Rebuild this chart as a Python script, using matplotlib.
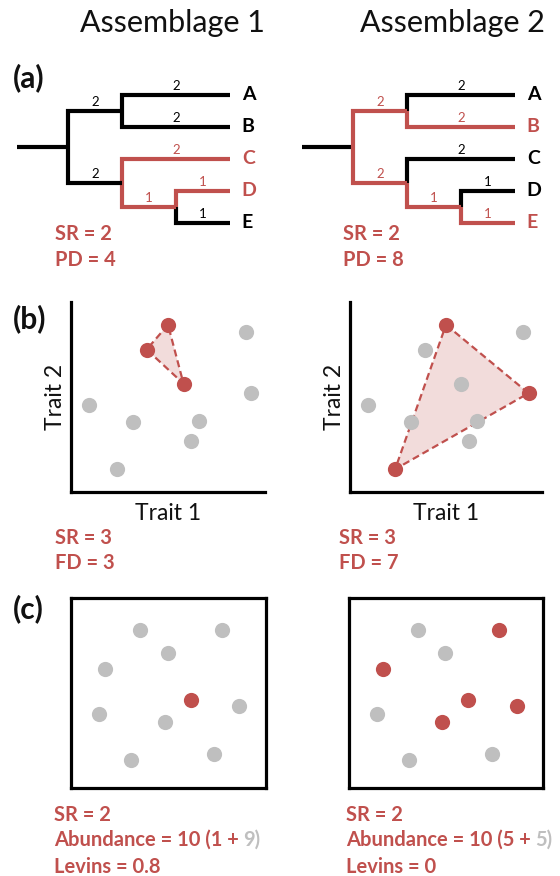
import matplotlib
matplotlib.use('Agg')
import matplotlib.pyplot as plt
from matplotlib.patches import Polygon

W, H = 560, 876
RED = '#C0504D'
GRAY = '#BFBFBF'
PINK = '#F2DCDB'
plt.rcParams['font.family'] = ['Lato', 'DejaVu Sans']

# ---------------- data ----------------
assemblages = ['Assemblage 1', 'Assemblage 2']

# (a) phylogeny ((A,B),(C,(D,E)))
tips = ['A', 'B', 'C', 'D', 'E']
tree = (('A', 'B'), ('C', ('D', 'E')))
edge_lengths = {'AB': 2, 'CDE': 2, 'A': 2, 'B': 2, 'C': 2, 'DE': 1, 'D': 1, 'E': 1}
red_edges = [['C', 'DE', 'D'], ['AB', 'B', 'CDE', 'DE', 'E']]
red_tips = [['C', 'D'], ['B', 'E']]
sr_a = [2, 2]
pd_a = [4, 8]

# (b) trait space, 10 species
trait1 = [5.0, 3.9, 5.8, 9.0, 9.3, 0.95, 3.2, 6.6, 6.2, 2.35]
trait2 = [8.8, 7.5, 5.7, 8.4, 5.2, 4.6, 3.7, 3.75, 2.7, 1.2]
trait_present = [[0, 1, 2], [0, 4, 9]]
sr_b = [3, 3]
fd_b = [3, 7]

# (c) spatial occupancy, 10 sites
site_x = [3.55, 7.75, 4.95, 1.75, 1.44, 4.8, 8.64, 3.1, 7.35, 6.15]
site_y = [8.32, 8.32, 7.11, 6.26, 3.89, 3.47, 4.32, 1.47, 1.79, 4.63]
occupied = [[9], [1, 3, 5, 6, 9]]
sr_c = [2, 2]
abund_total = [10, 10]
abund_red = [1, 5]
abund_gray = [9, 5]
levins = ['0.8', '0']

# ---------------- figure ----------------
fig = plt.figure(figsize=(W / 100, H / 100), dpi=100)


def add_px_axes(x0, y0, x1, y1, **kw):
    return fig.add_axes([x0 / W, 1 - y1 / H, (x1 - x0) / W, (y1 - y0) / H], **kw)


ov = add_px_axes(0, 0, W, H)
ov.set_xlim(0, W)
ov.set_ylim(H, 0)
ov.axis('off')

# titles
for txt, cx in zip(assemblages, [172, 452]):
    ov.text(cx, 32, txt, ha='center', va='baseline', fontsize=22, color='#111111')

for lab, cy in zip(['(a)', '(b)', '(c)'], [78, 319, 609]):
    ov.text(13, cy, lab, ha='left', va='center', fontsize=21.5, fontweight='bold', color='#111111')


# ---------------- (a) trees ----------------
def layout(node, depth, pos, children):
    if isinstance(node, str):
        pos[node] = (3, tips.index(node))
        return node
    names = [layout(ch, depth + 1, pos, children) for ch in node]
    name = ''.join(names)
    ys = [pos[n][1] for n in names]
    pos[name] = (depth, sum(ys) / len(ys))
    children[name] = names
    return name


tree_boxes = [(17, 95, 230, 223), (302, 95, 515, 223)]
LW = 3.0
for k in range(2):
    ax = add_px_axes(*tree_boxes[k])
    ax.set_xlim(-0.95, 3)
    ax.set_ylim(4, 0)
    ax.axis('off')
    pos, children = {}, {}
    root = layout(tree, 0, pos, children)
    ax.plot([-0.95, 0], [pos[root][1]] * 2, color='black', lw=LW,
            solid_capstyle='butt', clip_on=False)
    for parent, kids in children.items():
        px, py = pos[parent]
        for c in kids:
            cx, cy = pos[c]
            col = RED if c in red_edges[k] else 'black'
            ax.plot([px, px, cx], [py, cy, cy], color=col, lw=LW,
                    solid_capstyle='butt', solid_joinstyle='miter', clip_on=False)
            ax.annotate(str(edge_lengths[c]), xy=((px + cx) / 2, cy), xytext=(0, 2.5),
                        textcoords='offset points', ha='center', va='bottom',
                        fontsize=9.5, color=col, annotation_clip=False)
    for t in tips:
        col = RED if t in red_tips[k] else 'black'
        ax.annotate(t, xy=pos[t], xytext=(8.5, 0), textcoords='offset points',
                    ha='left', va='center', fontsize=14, fontweight='bold', color=col,
                    annotation_clip=False)

stat_x_a = [55, 343]
for k in range(2):
    ov.text(stat_x_a[k], 234, f'SR = {sr_a[k]}', ha='left', va='center',
            fontsize=14.5, fontweight='bold', color=RED)
    ov.text(stat_x_a[k], 260, f'PD = {pd_a[k]}', ha='left', va='center',
            fontsize=14.5, fontweight='bold', color=RED)

# ---------------- (b) trait space ----------------
trait_boxes = [(71, 302, 265, 492), (350, 302, 542, 492)]
MS = 120
for k in range(2):
    ax = add_px_axes(*trait_boxes[k])
    ax.set_xlim(0, 10)
    ax.set_ylim(0, 10)
    ax.set_xticks([])
    ax.set_yticks([])
    for s in ['top', 'right']:
        ax.spines[s].set_visible(False)
    for s in ['left', 'bottom']:
        ax.spines[s].set_linewidth(2.3)
    ax.patch.set_alpha(0)
    pres = trait_present[k]
    gx = [trait1[i] for i in range(10) if i not in pres]
    gy = [trait2[i] for i in range(10) if i not in pres]
    ax.add_patch(Polygon([(trait1[i], trait2[i]) for i in pres], closed=True,
                         facecolor=PINK, edgecolor=RED, lw=1.6,
                         linestyle=(0, (3.2, 1.8)), zorder=2))
    ax.scatter(gx, gy, s=MS, color=GRAY, lw=0, zorder=3, clip_on=False)
    ax.scatter([trait1[i] for i in pres], [trait2[i] for i in pres], s=MS,
               color=RED, lw=0, zorder=4, clip_on=False)
    ax.text(0.5, -21 / 190, 'Trait 1', transform=ax.transAxes, ha='center', va='center',
            fontsize=16.5, color='#111111')
    ax.text(-16 / 194, 0.5, 'Trait 2', transform=ax.transAxes, ha='center', va='center',
            rotation=90, fontsize=16.5, color='#111111')

stat_x_b = [55, 339]
for k in range(2):
    ov.text(stat_x_b[k], 538, f'SR = {sr_b[k]}', ha='left', va='center',
            fontsize=14.5, fontweight='bold', color=RED)
    ov.text(stat_x_b[k], 563, f'FD = {fd_b[k]}', ha='left', va='center',
            fontsize=14.5, fontweight='bold', color=RED)

# ---------------- (c) spatial ----------------
site_boxes = [(71, 598, 266, 788), (349, 598, 543, 788)]
for k in range(2):
    ax = add_px_axes(*site_boxes[k])
    ax.set_xlim(0, 10)
    ax.set_ylim(0, 10)
    ax.set_xticks([])
    ax.set_yticks([])
    for s in ax.spines.values():
        s.set_linewidth(2.3)
    occ = occupied[k]
    ax.scatter([site_x[i] for i in range(10) if i not in occ],
               [site_y[i] for i in range(10) if i not in occ], s=MS, color=GRAY, lw=0)
    ax.scatter([site_x[i] for i in occ], [site_y[i] for i in occ], s=MS, color=RED, lw=0)

stat_x_c = [54, 346]
for k in range(2):
    ov.text(stat_x_c[k], 815, f'SR = {sr_c[k]}', ha='left', va='center',
            fontsize=14.5, fontweight='bold', color=RED)
    t1 = ov.text(stat_x_c[k], 840, f'Abundance = {abund_total[k]} ({abund_red[k]} +',
                 ha='left', va='center', fontsize=14.5, fontweight='bold', color=RED)
    ov.annotate(f'{abund_gray[k]})', xycoords=t1, xy=(1, 0.5), xytext=(3.5, 0),
                textcoords='offset points', ha='left', va='center',
                fontsize=14.5, fontweight='bold', color=GRAY)
    ov.text(stat_x_c[k], 867, f'Levins = {levins[k]}', ha='left', va='center',
            fontsize=14.5, fontweight='bold', color=RED)

fig.savefig('out.png', dpi=100)
